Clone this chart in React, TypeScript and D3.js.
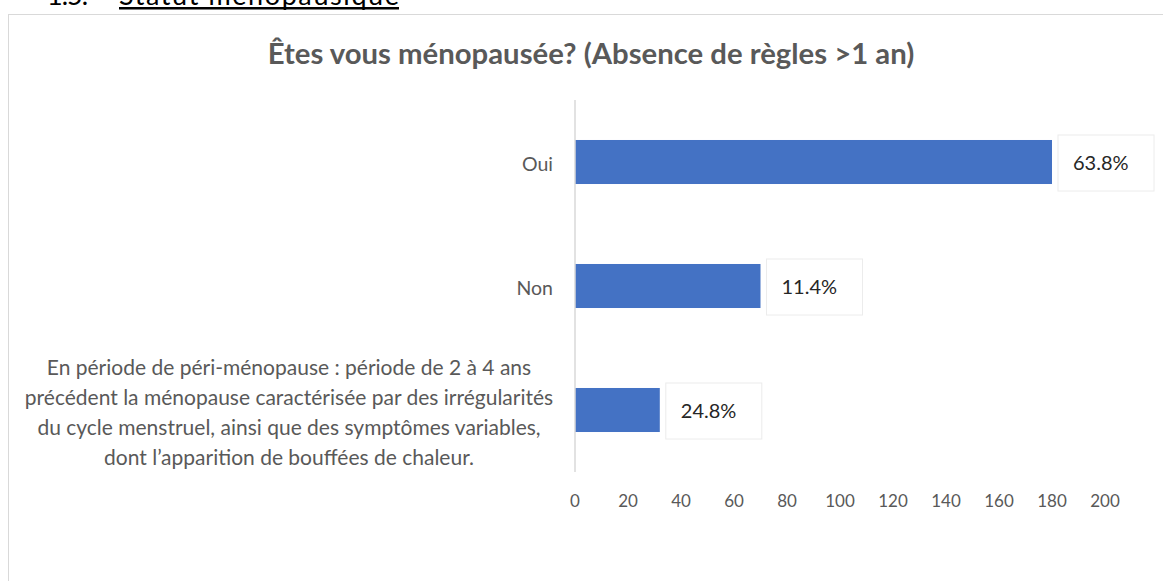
import * as d3 from "d3";

const categories = ["Oui", "Non", "Péri-ménopause"];
const categoryLines = [
  ["Oui"],
  ["Non"],
  [
    "En période de péri-ménopause : période de 2 à 4 ans",
    "précédent la ménopause caractérisée par des irrégularités",
    "du cycle menstruel, ainsi que des symptômes variables,",
    "dont l’apparition de bouffées de chaleur.",
  ],
];
const values = [180, 70, 32];
const valueLabels = ["63.8%", "11.4%", "24.8%"];
const xTickValues = [0, 20, 40, 60, 80, 100, 120, 140, 160, 180, 200];

const title = "Êtes vous ménopausée? (Absence de règles >1 an)";

export default function App() {
  const width = 1163,
    height = 581,
    left = 575,
    right = 1105,
    top = 100,
    bottom = 472,
    font = "Lato, 'Open Sans', sans-serif",
    grey = "#595959",
    barColor = "#4472C4",
    lineHeight = 30;

  const xScale = d3.scaleLinear().domain([0, 200]).range([left, right]);
  const yScale = d3
    .scaleBand()
    .domain(categories)
    .range([top, bottom])
    .paddingInner(0.645)
    .paddingOuter(0.3225);
  const bw = yScale.bandwidth();

  return (
    <svg
      width={width}
      height={height}
      style={{ position: "absolute", left: 0, top: 0, background: "white" }}
      fontFamily={font}
    >
      {/* document heading, mostly cut off at the top */}
      <text x={47} y={5} fontSize={27} fill="#000" textLength={41}>
        1.5.
      </text>
      <text x={119} y={5} fontSize={27} fill="#000" textLength={280}>
        Statut ménopausique
      </text>
      <rect x={119} y={7} width={280} height={2.5} fill="#000" />

      {/* chart frame */}
      <rect
        x={8.5}
        y={14.5}
        width={1170}
        height={600}
        fill="white"
        stroke="#d9d9d9"
      />

      <text
        x={591}
        y={52}
        textAnchor="middle"
        dominantBaseline="central"
        fontSize={29.3}
        fontWeight="bold"
        fill={grey}
      >
        {title}
      </text>

      {/* bars */}
      {categories.map((c, i) => (
        <rect
          key={c}
          x={xScale(0)}
          y={yScale(c)}
          width={xScale(values[i]) - xScale(0)}
          height={bw}
          fill={barColor}
        />
      ))}

      {/* value labels */}
      {categories.map((c, i) => {
        const xe = xScale(values[i]);
        const cy = (yScale(c) as number) + bw / 2;
        return (
          <g key={c + "-lab"}>
            <rect
              x={xe + 6}
              y={cy - 27}
              width={96}
              height={56}
              fill="white"
              stroke="#ececec"
            />
            <text
              x={xe + 21}
              y={cy}
              dominantBaseline="central"
              fontSize={20}
              fill="#262626"
            >
              {valueLabels[i]}
            </text>
          </g>
        );
      })}

      {/* y axis line */}
      <line x1={left} x2={left} y1={top} y2={bottom} stroke="#d9d9d9" strokeWidth={1.5} />

      {/* category labels */}
      {categories.map((c, i) => {
        const lines = categoryLines[i];
        const cy = (yScale(c) as number) + bw / 2;
        const multi = lines.length > 1;
        const x = multi ? 289 : 553;
        const y0 = cy - ((lines.length - 1) * lineHeight) / 2 + 1;
        return (
          <text
            key={c + "-cat"}
            textAnchor={multi ? "middle" : "end"}
            fontSize={multi ? 21 : 19.5}
            fill={grey}
          >
            {lines.map((l, j) => (
              <tspan key={j} x={x} y={y0 + j * lineHeight} dominantBaseline="central">
                {l}
              </tspan>
            ))}
          </text>
        );
      })}

      {/* x tick labels */}
      {xTickValues.map((t) => (
        <text
          key={t}
          x={xScale(t)}
          y={500}
          textAnchor="middle"
          dominantBaseline="central"
          fontSize={17}
          fill={grey}
        >
          {t}
        </text>
      ))}
    </svg>
  );
}
